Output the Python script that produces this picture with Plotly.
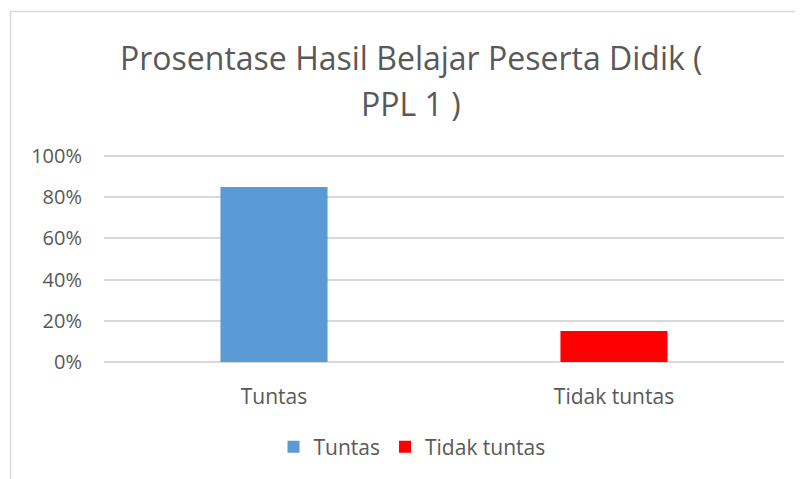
import plotly.graph_objects as go

categories = ["Tuntas", "Tidak tuntas"]
values = [0.85, 0.15]
colors = ["#5B9BD5", "#FF0000"]
y_ticks = [0, 0.2, 0.4, 0.6, 0.8, 1.0]
title_lines = ["Prosentase Hasil Belajar Peserta Didik (", "PPL 1 )"]

# page body has an 8px margin; target coordinates below are viewport pixels
OX, OY = 8, 8
W, H = 803 - OX, 479 - OY
PAD = 2  # px padding so edge gridlines are drawn
top_v, bot_v = 156, 362      # viewport y of 100% and 0%
left_v, right_v = 104, 784   # viewport x of plot area
L = left_v - OX
R = W - (right_v - OX)
T = top_v - OY - PAD
B = H - (bot_v - OY + PAD)
pw = W - L - R
ph = H - T - B
unit = (bot_v - top_v)
ypad = PAD / unit

def px(xv):
    return (xv - OX - L) / pw

def py(yv):
    return (H - B - (yv - OY)) / ph

FONT = "Open Sans"
TXT = "#595959"

fig = go.Figure()
for cat, val, col in zip(categories, values, colors):
    fig.add_trace(go.Bar(
        x=[cat], y=[val], name=cat, width=0.315,
        marker=dict(color=col, line=dict(width=0)),
    ))

title_y = [57, 103]
annotations = [
    dict(text=t, xref="paper", yref="paper", x=px(411), y=py(yv),
         xanchor="center", yanchor="middle", showarrow=False,
         font=dict(size=32, color=TXT, family=FONT))
    for t, yv in zip(title_lines, title_y)
]

fig.update_layout(
    width=W, height=H,
    margin=dict(l=L, r=R, t=T, b=B, autoexpand=False),
    paper_bgcolor="white", plot_bgcolor="white",
    barmode="relative",
    font=dict(family=FONT, color=TXT, size=20),
    showlegend=True,
    legend=dict(
        orientation="h", x=px(412), y=py(447), xanchor="center", yanchor="middle",
        font=dict(size=21, color=TXT), itemclick=False, traceorder="normal",
    ),
    xaxis=dict(
        showgrid=False, showline=False, zeroline=False, ticks="",
        ticklabelstandoff=18, tickfont=dict(size=21, color=TXT),
    ),
    yaxis=dict(
        range=[-ypad, 1 + ypad], tickvals=y_ticks, tickformat=".0%",
        showgrid=True, gridcolor="#D9D9D9", gridwidth=1.5,
        zeroline=False, showline=False, ticks="",
        ticklabelstandoff=21, tickfont=dict(size=20, color=TXT),
    ),
    annotations=annotations,
    shapes=[dict(
        type="rect", xref="paper", yref="paper",
        x0=px(10.5), x1=px(830), y0=py(510), y1=py(11.5),
        line=dict(color="#D9D9D9", width=1.5), fillcolor="rgba(0,0,0,0)",
        layer="below",
    )],
)

fig.write_html("out.html")
